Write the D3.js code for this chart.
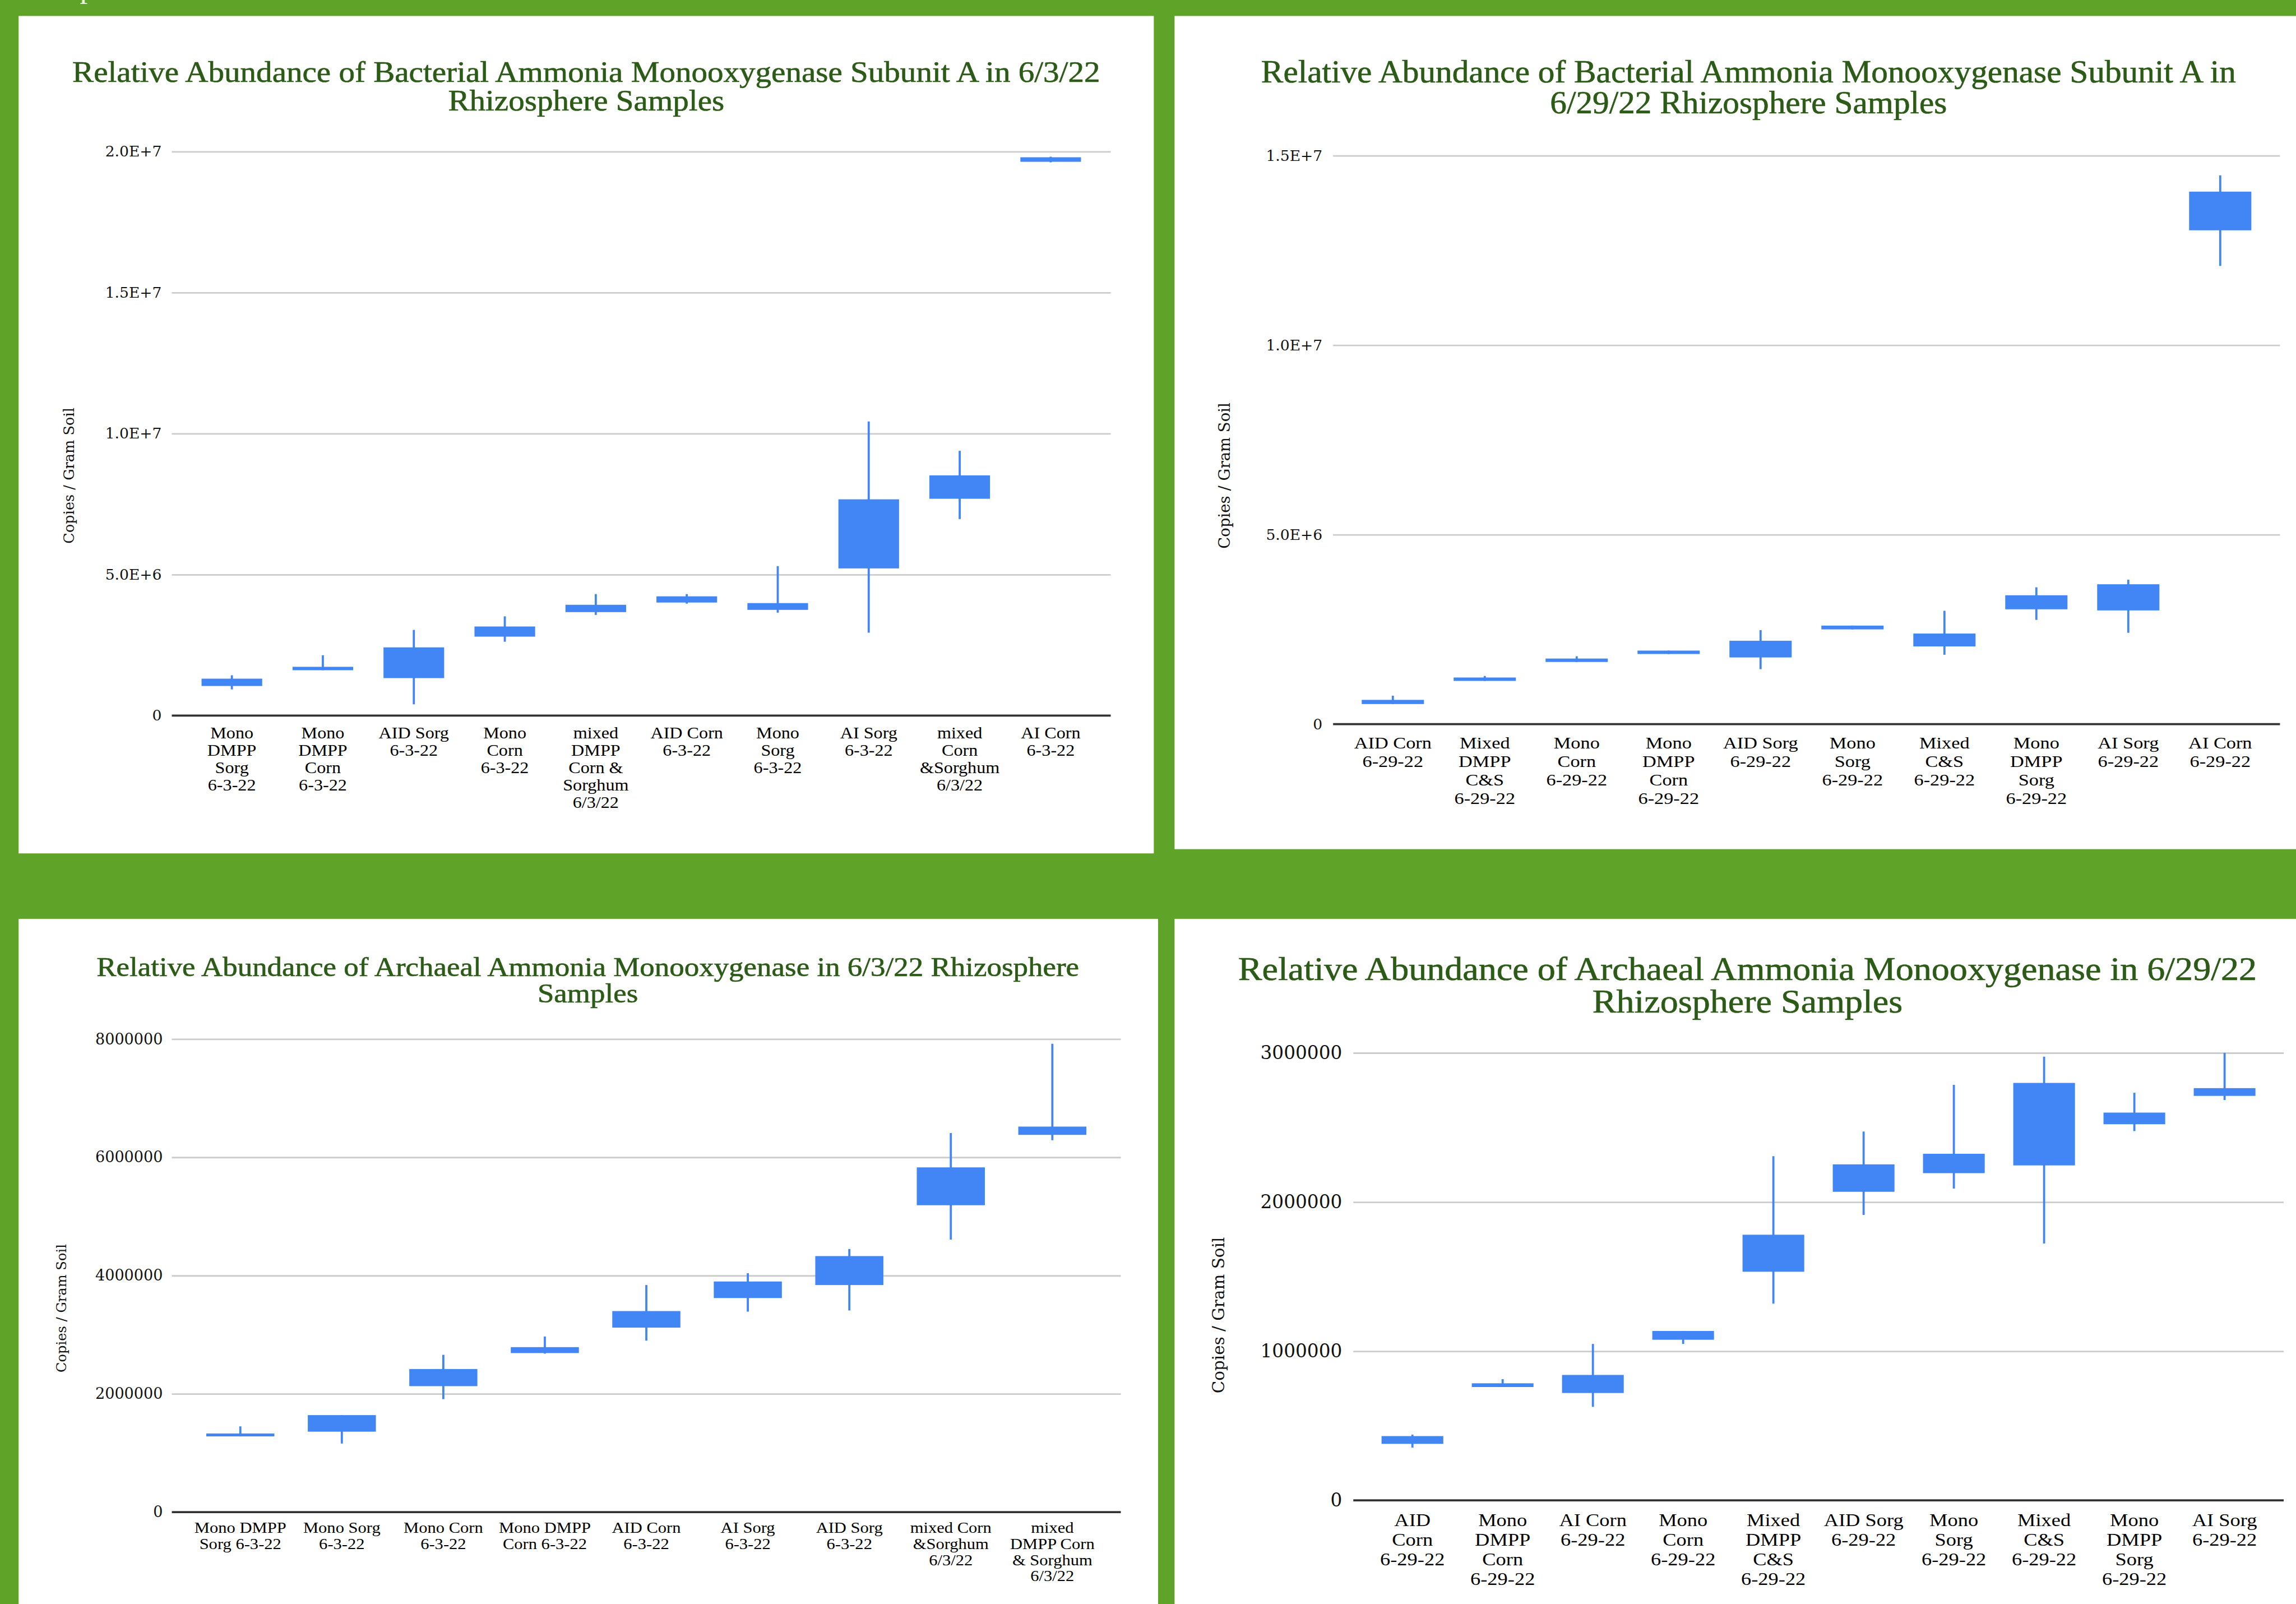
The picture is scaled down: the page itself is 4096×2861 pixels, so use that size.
<!DOCTYPE html>
<html>
	<head>
		<meta charset="UTF-8">
		<title>Ammonia Monooxygenase candlesticks</title>
		<script src="https://cdn.jsdelivr.net/npm/d3@7"></script>
		<style type="text/css">
			body{margin:0;padding:0;overflow:hidden;background:#5fa328;}
			svg{display:block;}
		</style>
	</head>
	<body>
		<script type="text/javascript">
			// ---- data (low, box bottom, box top, high) ----
			var tlCats = ["Mono\nDMPP\nSorg\n6-3-22","Mono\nDMPP\nCorn\n6-3-22","AID Sorg\n6-3-22","Mono\nCorn\n6-3-22","mixed\nDMPP\nCorn &\nSorghum\n6/3/22","AID Corn\n6-3-22","Mono\nSorg\n6-3-22","AI Sorg\n6-3-22","mixed\nCorn\n&Sorghum\n6/3/22","AI Corn\n6-3-22"];
			var tlLow   = [0.93e6,1.61e6,0.40e6,2.62e6,3.57e6,3.97e6,3.65e6,2.94e6,6.97e6,19.62e6];
			var tlBoxLo = [1.05e6,1.61e6,1.33e6,2.80e6,3.67e6,4.01e6,3.75e6,5.22e6,7.69e6,19.64e6];
			var tlBoxHi = [1.31e6,1.73e6,2.42e6,3.16e6,3.93e6,4.23e6,3.99e6,7.67e6,8.52e6,19.80e6];
			var tlHigh  = [1.43e6,2.14e6,3.04e6,3.52e6,4.31e6,4.31e6,5.30e6,10.43e6,9.39e6,19.82e6];
			var tlTicks = [0,5e6,1e7,1.5e7,2e7];

			var trCats = ["AID Corn\n6-29-22","Mixed\nDMPP\nC&S\n6-29-22","Mono\nCorn\n6-29-22","Mono\nDMPP\nCorn\n6-29-22","AID Sorg\n6-29-22","Mono\nSorg\n6-29-22","Mixed\nC&S\n6-29-22","Mono\nDMPP\nSorg\n6-29-22","AI Sorg\n6-29-22","AI Corn\n6-29-22"];
			var trLow   = [0.53e6,1.14e6,1.64e6,1.85e6,1.45e6,2.50e6,1.83e6,2.75e6,2.41e6,12.09e6];
			var trBoxLo = [0.53e6,1.14e6,1.64e6,1.85e6,1.76e6,2.50e6,2.05e6,3.03e6,3.00e6,13.03e6];
			var trBoxHi = [0.64e6,1.23e6,1.73e6,1.94e6,2.20e6,2.60e6,2.39e6,3.40e6,3.69e6,14.05e6];
			var trHigh  = [0.75e6,1.27e6,1.79e6,1.94e6,2.48e6,2.60e6,2.99e6,3.61e6,3.81e6,14.48e6];
			var trTicks = [0,5e6,1e7,1.5e7];

			var blCats = ["Mono DMPP\nSorg 6-3-22","Mono Sorg\n6-3-22","Mono Corn\n6-3-22","Mono DMPP\nCorn 6-3-22","AID Corn\n6-3-22","AI Sorg\n6-3-22","AID Sorg\n6-3-22","mixed Corn\n&Sorghum\n6/3/22","mixed\nDMPP Corn\n& Sorghum\n6/3/22"];
			var blLow   = [1.28e6,1.16e6,1.91e6,2.68e6,2.90e6,3.39e6,3.41e6,4.61e6,6.29e6];
			var blBoxLo = [1.28e6,1.36e6,2.13e6,2.69e6,3.12e6,3.62e6,3.84e6,5.19e6,6.38e6];
			var blBoxHi = [1.33e6,1.64e6,2.42e6,2.79e6,3.40e6,3.90e6,4.33e6,5.83e6,6.52e6];
			var blHigh  = [1.45e6,1.64e6,2.66e6,2.97e6,3.84e6,4.04e6,4.45e6,6.41e6,7.92e6];
			var blTicks = [0,2e6,4e6,6e6,8e6];

			var brCats = ["AID\nCorn\n6-29-22","Mono\nDMPP\nCorn\n6-29-22","AI Corn\n6-29-22","Mono\nCorn\n6-29-22","Mixed\nDMPP\nC&S\n6-29-22","AID Sorg\n6-29-22","Mono\nSorg\n6-29-22","Mixed\nC&S\n6-29-22","Mono\nDMPP\nSorg\n6-29-22","AI Sorg\n6-29-22"];
			var brLow   = [354000,760000,627000,1049000,1319000,1914000,2091000,1722000,2476000,2684000];
			var brBoxLo = [379000,760000,720000,1077000,1533000,2069000,2194000,2246000,2522000,2712000];
			var brBoxHi = [431000,785000,841000,1136000,1781000,2253000,2324000,2799000,2600000,2764000];
			var brHigh  = [441000,813000,1049000,1136000,2308000,2473000,2786000,2975000,2733000,3000000];
			var brTicks = [0,1e6,2e6,3e6];

			var expFmt = function(d){ return d === 0 ? "0" : d.toExponential(1).toUpperCase(); };
			var intFmt = function(d){ return String(d); };

			var W = 4096, H = 2861, S = 0.949;
			var green = "#5fa328", titleCol = "#2c5b17", boxCol = "#4285f4";

			var svg = d3.select("body")
			.append("svg")
			.attr("width",W)
			.attr("height",H);

			svg.append("rect").attr("width",W).attr("height",H).attr("fill",green);

			// everything below is laid out in reference pixels, then scaled down
			var root = svg.append("g").attr("transform","scale(" + S + ")");

			// cut-off letter at the very top of the screenshot
			root.append("text")
			.attr("x",150).attr("y",-5)
			.attr("font-family","Liberation Serif").attr("font-size",60)
			.attr("fill","#e8f3e0")
			.text("p");

			function drawChart(cfg, cats, low, boxLo, boxHi, high, ticks, fmt){
				var g = root.append("g");

				g.append("rect")
				.attr("x",cfg.panel[0]).attr("y",cfg.panel[1])
				.attr("width",cfg.panel[2]).attr("height",cfg.panel[3])
				.attr("fill","#fff");

				// title, stretched to the width it has in the picture
				var tg = g.append("g");
				var lines = cfg.title.map(function(t,i){
					return tg.append("text")
					.attr("x",0)
					.attr("y",cfg.titleY[i] + 0.33*cfg.titleFs)
					.attr("text-anchor","middle")
					.attr("font-family","Liberation Serif")
					.attr("font-size",cfg.titleFs)
					.attr("fill",titleCol)
					.attr("stroke",titleCol)
					.attr("stroke-width",0.7)
					.text(t);
				});
				var natural = lines[0].node().getComputedTextLength();
				var sx = natural > 0 ? cfg.titleW / natural : 1;
				tg.attr("transform","translate(" + cfg.titleX + ",0) scale(" + sx + ",1)");

				var x = d3.scalePoint()
				.domain(cats)
				.range([cfg.x0,cfg.x1])
				.padding(cfg.pad);

				var y = d3.scaleLinear()
				.domain([0,ticks[ticks.length-1]])
				.range([cfg.yb,cfg.yt]);

				//网格线
				g.append("g")
				.attr("transform","translate(" + cfg.x0 + ",0)")
				.call(d3.axisLeft(y).tickValues(ticks.slice(1)).tickSize(-(cfg.x1-cfg.x0)).tickFormat(""))
				.call(function(a){
					a.select(".domain").remove();
					a.selectAll("line").attr("stroke","#cccccc").attr("stroke-width",3);
				});

				//y轴刻度
				g.append("g")
				.attr("transform","translate(" + cfg.x0 + ",0)")
				.call(d3.axisLeft(y).tickValues(ticks).tickSize(0).tickPadding(cfg.x0-cfg.tickRight).tickFormat(fmt))
				.call(function(a){
					a.select(".domain").remove();
					a.selectAll("text")
					.attr("font-family","DejaVu Serif")
					.attr("font-size",cfg.tickFs)
					.attr("fill","#111");
				});

				// baseline
				g.append("line")
				.attr("x1",cfg.x0).attr("x2",cfg.x1)
				.attr("y1",y(0)).attr("y2",y(0))
				.attr("stroke","#333").attr("stroke-width",4);

				// y-axis title
				g.append("text")
				.attr("transform","translate(" + cfg.yTitle[0] + "," + cfg.yTitle[1] + ") rotate(-90)")
				.attr("text-anchor","middle")
				.attr("dy","0.35em")
				.attr("font-family","DejaVu Serif")
				.attr("font-size",cfg.yTitleFs)
				.attr("fill","#111")
				.text("Copies / Gram Soil");

				// category labels
				cats.forEach(function(c){
					var lg = g.append("g")
					.attr("transform","translate(" + x(c) + "," + (cfg.yb + cfg.labOff) + ") scale(" + cfg.labSx + ",1)");
					c.split("\n").forEach(function(s,i){
						lg.append("text")
						.attr("x",0)
						.attr("y",0.33*cfg.labFs + i*cfg.labLh)
						.attr("text-anchor","middle")
						.attr("font-family","Liberation Serif")
						.attr("font-size",cfg.labFs)
						.attr("fill","#000")
						.text(s);
					});
				});

				// candles
				var marks = g.append("g");
				cats.forEach(function(c,i){
					marks.append("line")
					.attr("x1",x(c)).attr("x2",x(c))
					.attr("y1",y(low[i])).attr("y2",y(high[i]))
					.attr("stroke",boxCol).attr("stroke-width",4);
					marks.append("rect")
					.attr("x",x(c) - cfg.boxW/2)
					.attr("y",y(boxHi[i]))
					.attr("width",cfg.boxW)
					.attr("height",Math.max(2,y(boxLo[i]) - y(boxHi[i])))
					.attr("fill",boxCol);
				});
			}

			drawChart({
				panel:[35,30,2134,1574],
				title:["Relative Abundance of Bacterial Ammonia Monooxygenase Subunit A in 6/3/22","Rhizosphere Samples"],
				titleX:1102, titleY:[135,189], titleFs:56, titleW:1932,
				x0:323, x1:2088, yb:1345, yt:285, pad:0.66, boxW:114,
				tickRight:304, tickFs:28,
				yTitle:[130,894], yTitleFs:27,
				labOff:33, labFs:30, labLh:32.6, labSx:1.13
			}, tlCats, tlLow, tlBoxLo, tlBoxHi, tlHigh, tlTicks, expFmt);

			drawChart({
				panel:[2208,30,2200,1566],
				title:["Relative Abundance of Bacterial Ammonia Monooxygenase Subunit A in","6/29/22 Rhizosphere Samples"],
				titleX:3287, titleY:[135,193], titleFs:59, titleW:1833,
				x0:2506, x1:4286, yb:1361, yt:292.5, pad:0.65, boxW:117,
				tickRight:2486, tickFs:28,
				yTitle:[2302,894], yTitleFs:29,
				labOff:35, labFs:32, labLh:34.7, labSx:1.13
			}, trCats, trLow, trBoxLo, trBoxHi, trHigh, trTicks, expFmt);

			drawChart({
				panel:[35,1727,2142,1300],
				title:["Relative Abundance of Archaeal Ammonia Monooxygenase in 6/3/22 Rhizosphere","Samples"],
				titleX:1105, titleY:[1818,1867.5], titleFs:51, titleW:1847,
				x0:323, x1:2107, yb:2842, yt:1953, pad:0.675, boxW:128,
				tickRight:306, tickFs:28.5,
				yTitle:[115,2459], yTitleFs:25.5,
				labOff:30, labFs:28, labLh:30.2, labSx:1.15
			}, blCats, blLow, blBoxLo, blBoxHi, blHigh, blTicks, intFmt);

			drawChart({
				panel:[2208,1727,2200,1300],
				title:["Relative Abundance of Archaeal Ammonia Monooxygenase in 6/29/22","Rhizosphere Samples"],
				titleX:3285, titleY:[1822,1883], titleFs:62, titleW:1915,
				x0:2544, x1:4293, yb:2820, yt:1979, pad:0.655, boxW:116,
				tickRight:2523, tickFs:34.5,
				yTitle:[2291,2472], yTitleFs:31,
				labOff:37, labFs:34, labLh:37, labSx:1.13
			}, brCats, brLow, brBoxLo, brBoxHi, brHigh, brTicks, intFmt);
		</script>
	</body>
</html>
